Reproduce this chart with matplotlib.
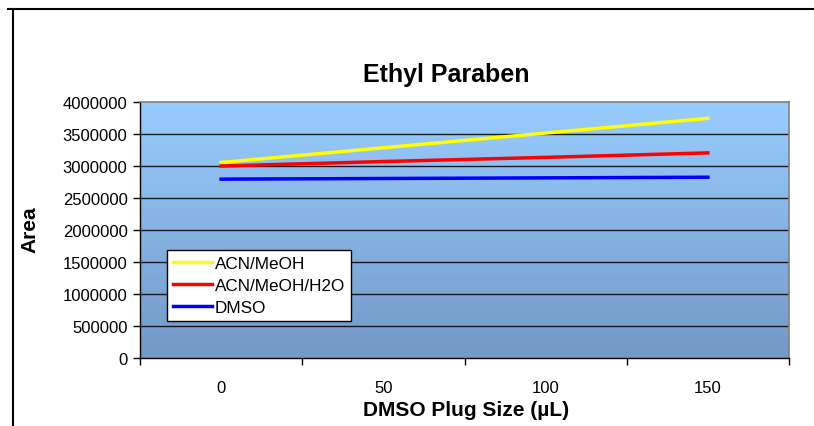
import matplotlib
matplotlib.use("Agg")
import matplotlib.pyplot as plt
import numpy as np
from matplotlib.lines import Line2D
from matplotlib.colors import LinearSegmentedColormap

plt.rcParams["font.family"] = ["Liberation Sans", "DejaVu Sans"]

# ---------- data ----------
categories = ["0", "50", "100", "150"]
acn_meoh = [3050000, 3280000, 3510000, 3740000]
acn_meoh_h2o = [2995000, 3065000, 3130000, 3200000]
dmso = [2790000, 2800000, 2810000, 2820000]
y_ticks = [0, 500000, 1000000, 1500000, 2000000, 2500000, 3000000, 3500000, 4000000]

W, H = 814, 427
fig = plt.figure(figsize=(W / 100, H / 100), dpi=100)
ax = fig.add_axes([140 / W, 1 - 358.7 / H, 649 / W, 256 / H])

x = np.arange(len(categories))
ax.set_xlim(-0.5, len(categories) - 0.5)
ax.set_ylim(0, 4000000)

# gradient background like the old Excel plot area
cmap = LinearSegmentedColormap.from_list("bg", ["#7399c6", "#99ccff"])
grad = np.linspace(0, 1, 256).reshape(-1, 1)
ax.imshow(grad, cmap=cmap, aspect="auto", origin="lower",
          extent=(-0.5, len(categories) - 0.5, 0, 4000000), zorder=0)

for v in y_ticks[1:-1]:
    ax.axhline(v, color="#1a1a1a", lw=1.0, zorder=1)

ax.plot(x, acn_meoh, color="#ffff00", lw=2.5, label="ACN/MeOH", zorder=3)
ax.plot(x, acn_meoh_h2o, color="#ff0000", lw=2.5, label="ACN/MeOH/H2O", zorder=3)
ax.plot(x, dmso, color="#0000ff", lw=2.5, label="DMSO", zorder=3)

# axes look
for side in ["top", "right"]:
    ax.spines[side].set_color("#808080")
    ax.spines[side].set_linewidth(1.2)
for side in ["left", "bottom"]:
    ax.spines[side].set_color("black")
    ax.spines[side].set_linewidth(1.0)

ax.set_yticks(y_ticks)
ax.set_yticklabels([str(v) for v in y_ticks], fontsize=12)
ax.tick_params(axis="y", direction="out", length=5, width=1, pad=4)

# category axis: tick marks between categories, labels centered
ax.set_xticks(np.arange(-0.5, len(categories), 1.0))
ax.set_xticklabels([])
ax.set_xticks(x, minor=True)
ax.set_xticklabels(categories, minor=True, fontsize=12)
ax.tick_params(axis="x", which="major", direction="out", length=5, width=1)
ax.tick_params(axis="x", which="minor", length=0, pad=16)

fig.text(466 / W, 1 - 411 / H, "DMSO Plug Size (\u00b5L)", fontsize=15,
         fontweight="bold", ha="center", va="center")
fig.text(30 / W, 1 - 230 / H, "Area", fontsize=15, fontweight="bold",
         rotation=90, ha="center", va="center")
fig.text(446 / W, 1 - 75 / H, "Ethyl Paraben", fontsize=18, fontweight="bold",
         ha="center", va="center")

leg = ax.legend(loc="lower left", bbox_to_anchor=(27 / 649, 36.7 / 256), fontsize=12.3,
                frameon=True, fancybox=False, framealpha=1, edgecolor="black",
                handlelength=2.3, handletextpad=0.15, borderpad=0.35, labelspacing=0.4,
                borderaxespad=0)
leg.get_frame().set_linewidth(1.0)

# outer chart frame (only top and left visible in the reference)
fig.add_artist(Line2D([8 / W, 1], [1 - 9.5 / H, 1 - 9.5 / H], color="black", lw=1.5))
fig.add_artist(Line2D([12.5 / W, 12.5 / W], [0, 1 - 9.5 / H], color="black", lw=1.5))

fig.savefig("out.png", dpi=100)
